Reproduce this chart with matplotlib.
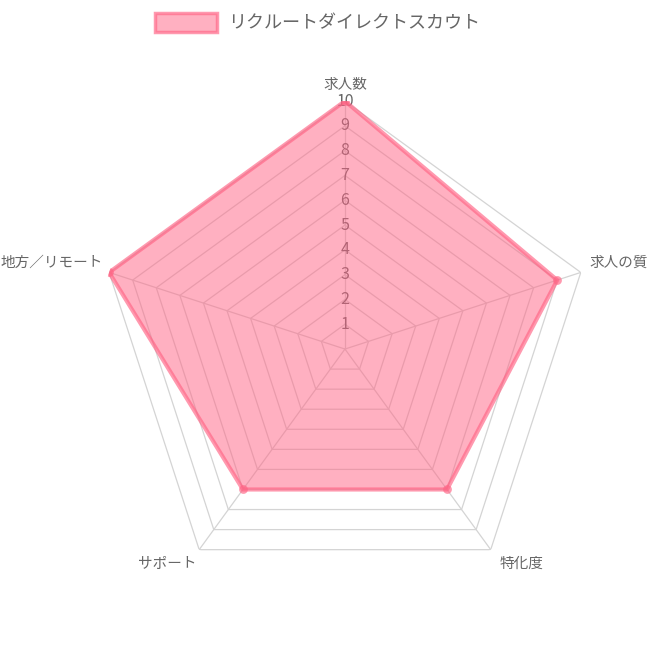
import numpy as np
import matplotlib
matplotlib.use("Agg")
import matplotlib.pyplot as plt
from matplotlib.patches import Rectangle

plt.rcParams["font.family"] = ["Noto Sans CJK JP", "DejaVu Sans"]

# データ
categories = ["求人数", "求人の質", "特化度", "サポート", "地方／リモート"]
values = [10, 9, 7, 7, 10]
series_name = "リクルートダイレクトスカウト"
ticks = [1, 2, 3, 4, 5, 6, 7, 8, 9, 10]

FILL = (1.0, 99 / 255, 132 / 255, 0.5)
EDGE = (1.0, 99 / 255, 132 / 255, 0.65)
GRID = "#d4d4d4"
TEXT = "#666666"

n = len(categories)
angles = np.linspace(0, 2 * np.pi, n, endpoint=False)
closed = np.append(angles, angles[0])

fig = plt.figure(figsize=(6.5, 6.5), dpi=100)
ax = fig.add_axes([0.1492, 0.0815, 0.763, 0.763], projection="polar")
ax.set_theta_zero_location("N")
ax.set_theta_direction(-1)
ax.set_ylim(0, 10)
ax.grid(False)
ax.spines["polar"].set_visible(False)
ax.set_xticks([])
ax.set_yticks([])
ax.patch.set_visible(False)

# 多角形のグリッド
for t in ticks:
    ax.plot(closed, [t] * (n + 1), color=GRID, lw=0.9, zorder=1)
for a in angles:
    ax.plot([a, a], [0, 10], color=GRID, lw=0.9, zorder=1)

# 目盛ラベル
for t in ticks:
    ax.text(0, t, str(t), ha="center", va="center", fontsize=11.5,
            color=TEXT, zorder=2)

# データ
vals = np.append(values, values[0])
ax.fill(closed, vals, color=FILL, lw=0, zorder=3)
ax.plot(closed, vals, color=EDGE, lw=3, zorder=4)
ax.scatter(angles, values, s=40, color=EDGE, zorder=5, lw=0)

# 軸ラベル (外周の頂点からのずれ、ピクセル)
label_style = [
    ((0, 16), "center"),
    ((9, 10), "left"),
    ((9, -14), "left"),
    ((-3, -14), "right"),
    ((-6, 10), "right"),
]
for a, cat, (off, ha) in zip(angles, categories, label_style):
    ax.annotate(cat, xy=(a, 10), xytext=off, textcoords="offset pixels",
                ha=ha, va="center", fontsize=10.5, color=TEXT,
                annotation_clip=False)

# 凡例
fig.patches.append(Rectangle((155 / 650, 1 - 32 / 650), 62 / 650, 19 / 650,
                             transform=fig.transFigure, facecolor=FILL,
                             edgecolor=EDGE, lw=2.5))
fig.text(228 / 650, 1 - 23 / 650, series_name, ha="left", va="center",
         fontsize=13, color=TEXT)

fig.savefig("out.png", dpi=100)
